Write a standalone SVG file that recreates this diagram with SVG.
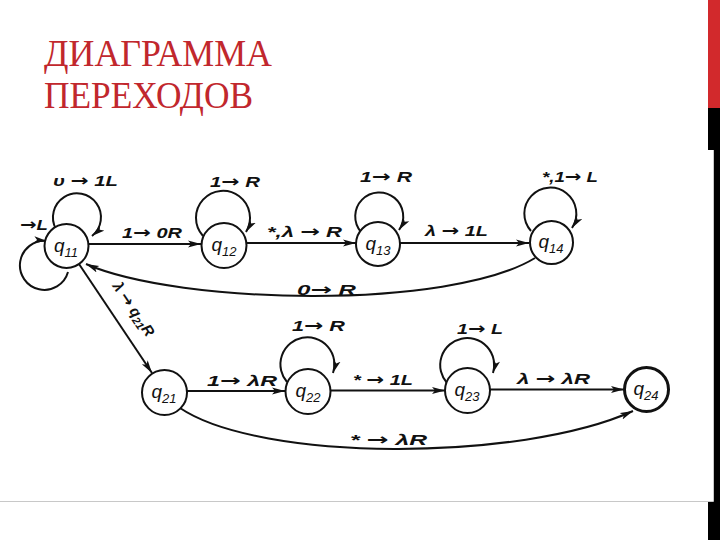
<svg xmlns="http://www.w3.org/2000/svg" width="720" height="540" viewBox="0 0 720 540">
<defs>
<marker id="ah" markerUnits="userSpaceOnUse" markerWidth="14" markerHeight="10" refX="13" refY="4" orient="auto">
<path d="M0,0.5 L13,4 L0,7.5 L3,4 z" fill="#111"/>
</marker>
<style>
.title{font-family:"Liberation Serif","Times New Roman",serif;font-size:37px;fill:#c1272d}
.st circle{fill:#fff;stroke:#111;stroke-width:2}
.fin circle{stroke-width:3}
.nl{font-family:"Liberation Sans",Arial,sans-serif;font-style:italic;font-size:19px;fill:#111;text-anchor:middle}
.nl .s{font-size:13px}
.lb{font-family:"Liberation Sans",Arial,sans-serif;font-style:italic;font-weight:bold;font-size:15px;fill:#111}
.a{font-family:"DejaVu Sans",sans-serif;font-style:normal;font-weight:bold;font-size:16px}
.e{fill:none;stroke:#111;stroke-width:2;marker-end:url(#ah)}
</style>
</defs>
<rect x="0" y="0" width="720" height="540" fill="#fff"/>
<rect x="708" y="0" width="12" height="108" fill="#d2292c"/>
<rect x="708" y="108" width="12" height="432" fill="#000"/>
<rect x="0" y="150" width="713" height="351" fill="#fff"/>
<path d="M0,501.5 H713.5 V150" fill="none" stroke="#c8c8c8" stroke-width="1"/>
<text class="title" x="44" y="66" textLength="228" lengthAdjust="spacingAndGlyphs">ДИАГРАММА</text>
<text class="title" x="44" y="108" textLength="209" lengthAdjust="spacingAndGlyphs">ПЕРЕХОДОВ</text>

<g id="connectors">
<line class="e" x1="89" y1="244" x2="201" y2="244"/>
<line class="e" x1="247" y1="243" x2="356" y2="243"/>
<line class="e" x1="400" y1="243" x2="529" y2="243"/>
<path class="e" d="M535,258 C450,310 180,305 86,264"/>
<line class="e" x1="79" y1="264" x2="152" y2="373"/>
<line class="e" x1="187" y1="391" x2="285" y2="391"/>
<line class="e" x1="331" y1="390.5" x2="445" y2="390.5"/>
<line class="e" x1="490" y1="389.5" x2="624" y2="389.5"/>
<path class="e" d="M180,408 C260,462 520,462 633,411"/>
<path class="e" d="M56,229 A24,24 0 1 1 92,236"/>
<path class="e" d="M68,272 A24.5,24.5 0 1 1 47,241"/>
<path class="e" d="M203,236 A27,27 0 1 1 246,232"/>
<path class="e" d="M361,232 A24,24 0 1 1 399,230"/>
<path class="e" d="M531,231 A26,26 0 1 1 572,228"/>
<path class="e" d="M287,382 A27,27 0 1 1 333,373"/>
<path class="e" d="M447,383 A27,27 0 1 1 493,373"/>
</g>

<g id="q11" class="st"><circle cx="66.5" cy="246" r="22"/><text class="nl" x="66" y="252">q<tspan class="s" dy="5">11</tspan></text></g>
<g id="q12" class="st"><circle cx="224" cy="245.5" r="22.5"/><text class="nl" x="224" y="251">q<tspan class="s" dy="5">12</tspan></text></g>
<g id="q13" class="st"><circle cx="378" cy="244" r="22"/><text class="nl" x="378" y="250">q<tspan class="s" dy="5">13</tspan></text></g>
<g id="q14" class="st"><circle cx="551.5" cy="242.5" r="21.5"/><text class="nl" x="551" y="248">q<tspan class="s" dy="5">14</tspan></text></g>
<g id="q21" class="st"><circle cx="164.5" cy="392.5" r="22.5"/><text class="nl" x="164" y="398">q<tspan class="s" dy="5">21</tspan></text></g>
<g id="q22" class="st"><circle cx="308" cy="391.5" r="22.5"/><text class="nl" x="308" y="397">q<tspan class="s" dy="5">22</tspan></text></g>
<g id="q23" class="st"><circle cx="467.5" cy="390.5" r="22.5"/><text class="nl" x="467" y="396">q<tspan class="s" dy="5">23</tspan></text></g>
<g id="q24" class="st fin"><circle cx="646.5" cy="389.5" r="22"/><text class="nl" x="646" y="395">q<tspan class="s" dy="5">24</tspan></text></g>

<g id="labels">
<text class="lb" x="53" y="186" textLength="65" lengthAdjust="spacingAndGlyphs">υ <tspan class="a">→</tspan> 1L</text>
<text class="lb" x="20" y="230" textLength="28" lengthAdjust="spacingAndGlyphs"><tspan class="a">→</tspan>L</text>
<text class="lb" x="122" y="238" textLength="60" lengthAdjust="spacingAndGlyphs">1<tspan class="a">→</tspan> 0R</text>
<text class="lb" x="210" y="187" textLength="50" lengthAdjust="spacingAndGlyphs">1<tspan class="a">→</tspan> R</text>
<text class="lb" x="267" y="237" textLength="75" lengthAdjust="spacingAndGlyphs">*,λ <tspan class="a">→</tspan> R</text>
<text class="lb" x="360" y="182" textLength="52" lengthAdjust="spacingAndGlyphs">1<tspan class="a">→</tspan> R</text>
<text class="lb" x="425" y="236" textLength="63" lengthAdjust="spacingAndGlyphs">λ <tspan class="a">→</tspan> 1L</text>
<text class="lb" x="542" y="182" textLength="56" lengthAdjust="spacingAndGlyphs">*,1<tspan class="a">→</tspan> L</text>
<text class="lb" x="297" y="295" textLength="59" lengthAdjust="spacingAndGlyphs">0<tspan class="a">→</tspan> R</text>
<text class="lb" transform="translate(112,286) rotate(56)">λ <tspan class="a">→</tspan> q<tspan font-size="11" dy="3">21</tspan><tspan dy="-3">R</tspan></text>
<text class="lb" x="292" y="331" textLength="53" lengthAdjust="spacingAndGlyphs">1<tspan class="a">→</tspan> R</text>
<text class="lb" x="207" y="386" textLength="70" lengthAdjust="spacingAndGlyphs">1<tspan class="a">→</tspan> λR</text>
<text class="lb" x="353" y="385" textLength="60" lengthAdjust="spacingAndGlyphs">* <tspan class="a">→</tspan> 1L</text>
<text class="lb" x="457" y="334" textLength="46" lengthAdjust="spacingAndGlyphs">1<tspan class="a">→</tspan> L</text>
<text class="lb" x="517" y="384" textLength="73" lengthAdjust="spacingAndGlyphs">λ <tspan class="a">→</tspan> λR</text>
<text class="lb" x="350" y="445" textLength="77" lengthAdjust="spacingAndGlyphs">* <tspan class="a">→</tspan> λR</text>
</g>
</svg>
